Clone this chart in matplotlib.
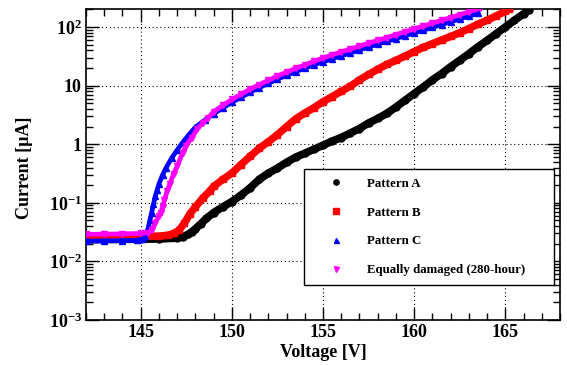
import matplotlib
matplotlib.use('Agg')
import matplotlib.pyplot as plt
from matplotlib.lines import Line2D
from matplotlib.ticker import MultipleLocator, LogLocator, NullFormatter
import numpy as np

# I-V curves, voltage in V and current in uA
volt_a = [142.0, 143.0, 144.0, 145.0, 146.0, 147.0, 147.3, 147.6, 147.8, 148.0,
          148.3, 148.6, 149.0, 149.5, 150.0, 150.5, 151.0, 151.5, 152.0, 152.5,
          153.0, 153.5, 154.0, 154.5, 155.0, 155.5, 156.0, 156.5, 157.0, 157.5,
          158.0, 158.5, 159.0, 159.5, 160.0, 160.5, 161.0, 161.5, 162.0, 162.5,
          163.0, 163.5, 164.0, 164.5, 165.0, 165.5, 166.0, 166.3]
cur_a = [0.0235, 0.0237, 0.0238, 0.024, 0.0242, 0.025, 0.026, 0.029, 0.032, 0.036,
         0.044, 0.054, 0.068, 0.085, 0.105, 0.135, 0.18, 0.25, 0.32, 0.39,
         0.49, 0.60, 0.70, 0.82, 0.96, 1.13, 1.3, 1.55, 1.85, 2.3,
         2.75, 3.35, 4.3, 5.6, 7.3, 9.5, 12.5, 16, 21, 27,
         35, 46, 59, 77, 100, 130, 168, 197]

volt_b = [142.0, 143.0, 144.0, 145.0, 146.0, 146.5, 146.8, 147.1, 147.4, 147.7,
          148.0, 148.4, 148.8, 149.0, 149.5, 150.0, 150.5, 151.0, 151.5, 152.0,
          152.5, 153.0, 153.5, 154.0, 154.5, 155.0, 155.5, 156.0, 156.5, 157.0,
          157.5, 158.0, 158.5, 159.0, 159.5, 160.0, 160.5, 161.0, 161.5, 162.0,
          162.5, 163.0, 163.5, 164.0, 164.5, 165.0, 165.2]
cur_b = [0.026, 0.026, 0.026, 0.0265, 0.027, 0.028, 0.030, 0.034, 0.045, 0.065,
         0.085, 0.12, 0.16, 0.19, 0.25, 0.32, 0.45, 0.62, 0.85, 1.1,
         1.45, 2.0, 2.7, 3.4, 4.2, 5.3, 6.5, 8.0, 9.8, 12.5,
         15.5, 19, 23, 27, 32, 38, 45, 52, 60, 69,
         80, 94, 112, 130, 155, 185, 200]

volt_c = [142.0, 143.0, 144.0, 144.8, 145.1, 145.25, 145.4, 145.5, 145.6, 145.7,
          145.8, 145.9, 146.0, 146.2, 146.4, 146.7, 147.0, 147.3, 147.6, 148.0,
          148.5, 149.0, 149.5, 150.0, 150.5, 151.0, 151.5, 152.0, 152.5, 153.0,
          153.5, 154.0, 154.5, 155.0, 155.5, 156.0, 156.5, 157.0, 157.5, 158.0,
          158.5, 159.0, 159.5, 160.0, 160.5, 161.0, 161.5, 162.0, 162.5, 163.0,
          163.5]
cur_c = [0.0222, 0.0224, 0.0226, 0.0228, 0.024, 0.027, 0.036, 0.05, 0.068, 0.095,
         0.13, 0.165, 0.21, 0.30, 0.40, 0.58, 0.80, 1.07, 1.4, 1.95,
         2.55, 3.3, 4.15, 5.2, 6.3, 7.7, 9.2, 10.9, 12.9, 14.9,
         17.3, 19.8, 22.6, 25.5, 28.8, 32.2, 36.1, 40.6, 45.4, 50.8,
         56.9, 63.5, 71, 79, 88, 98.6, 110, 123, 137, 153,
         171]

volt_d = [142.0, 143.0, 144.0, 145.0, 145.4, 145.6, 145.8, 146.0, 146.1, 146.2,
          146.3, 146.45, 146.6, 146.8, 147.0, 147.3, 147.5, 147.8, 148.1, 148.4,
          148.7, 149.0, 149.5, 150.0, 150.5, 151.0, 151.5, 152.0, 152.5, 153.0,
          153.5, 154.0, 154.5, 155.0, 155.5, 156.0, 156.5, 157.0, 157.5, 158.0,
          158.5, 159.0, 159.5, 160.0, 160.5, 161.0, 161.5, 162.0, 162.5, 163.0,
          163.6]
cur_d = [0.029, 0.0292, 0.0295, 0.030, 0.031, 0.034, 0.045, 0.06, 0.068, 0.085,
         0.11, 0.16, 0.21, 0.31, 0.42, 0.72, 0.95, 1.3, 1.8, 2.3,
         2.8, 3.6, 4.6, 5.8, 7.1, 8.7, 10.4, 12.3, 14.6, 16.9,
         19.7, 22.5, 26, 29.5, 33.5, 37.5, 42, 47, 53, 59,
         66, 74, 83, 93, 104, 116, 130, 145, 162, 182,
         208]

labels = ['Pattern A', 'Pattern B', 'Pattern C', 'Equally damaged (280-hour)']

plt.rcParams.update({
    'font.family': ['Liberation Serif', 'DejaVu Serif'],
    'font.weight': 'bold',
    'axes.labelweight': 'bold',
    'mathtext.fontset': 'custom',
    'mathtext.rm': 'Liberation Serif:bold',
    'mathtext.bf': 'Liberation Serif:bold',
    'mathtext.it': 'Liberation Serif:bold:italic',
    'mathtext.default': 'rm',
})

fig = plt.figure(figsize=(5.67, 3.65), dpi=100)
ax = fig.add_axes([0.1517, 0.1233, 0.836, 0.852])

# thick band + markers, like a dense TGraph
ax.plot(volt_a, cur_a, '-', color='black', lw=5.6, marker='o', ms=5.0,
        mec='black', mfc='black', solid_capstyle='round', zorder=3)
ax.plot(volt_b, cur_b, '-', color='red', lw=5.4, marker='s', ms=4.2,
        mec='red', mfc='red', solid_capstyle='projecting', zorder=4)
ax.plot(volt_c, cur_c, '-', color='blue', lw=3.4, marker='^', ms=4.6,
        mec='blue', mfc='blue', zorder=5)
ax.plot(volt_d, cur_d, '-', color='magenta', lw=3.4, marker='v', ms=4.6,
        mec='magenta', mfc='magenta', zorder=6)

ax.set_yscale('log')
ax.set_xlim(142, 168)
ax.set_ylim(1e-3, 203)

ax.xaxis.set_major_locator(MultipleLocator(5))
ax.xaxis.set_minor_locator(MultipleLocator(1))
ax.set_yticks([1e-3, 1e-2, 1e-1, 1, 10, 100])
ax.set_yticklabels([r'$10^{-3}$', r'$10^{-2}$', r'$10^{-1}$', '1', '10', r'$10^{2}$'])
ax.yaxis.set_minor_locator(LogLocator(base=10, subs=np.arange(2, 10), numticks=20))
ax.yaxis.set_minor_formatter(NullFormatter())

ax.tick_params(which='both', direction='in', top=True, right=True, width=1.0,
               labelsize=13, pad=3)
ax.tick_params(which='major', length=9.5)
ax.tick_params(which='minor', length=5)
for s in ax.spines.values():
    s.set_linewidth(1.2)

ax.grid(which='major', color='black', linestyle=(0, (1, 2.5)), linewidth=0.8)

ax.set_xlabel('Voltage [V]', fontsize=13, labelpad=2)
ax.set_ylabel('Current [\u00b5A]', fontsize=13)
ax.yaxis.set_label_coords(-0.112, 0.49)

handles = [
    Line2D([], [], ls='none', marker='o', color='black', ms=3.8),
    Line2D([], [], ls='none', marker='s', color='red', ms=3.8),
    Line2D([], [], ls='none', marker='^', color='blue', ms=3.6),
    Line2D([], [], ls='none', marker='v', color='magenta', ms=3.6),
]
leg = ax.legend(handles, labels, loc='upper left', mode='expand',
                bbox_to_anchor=(0.46, 0.103, 0.527, 0.383), borderaxespad=0,
                fontsize=9.3, labelspacing=1.29, borderpad=0.7,
                handlelength=3.57, handletextpad=0.62, fancybox=False,
                framealpha=1, edgecolor='black')
leg.get_frame().set_linewidth(1.0)
leg.set_zorder(10)

fig.savefig('out.png', dpi=100, facecolor='white')
